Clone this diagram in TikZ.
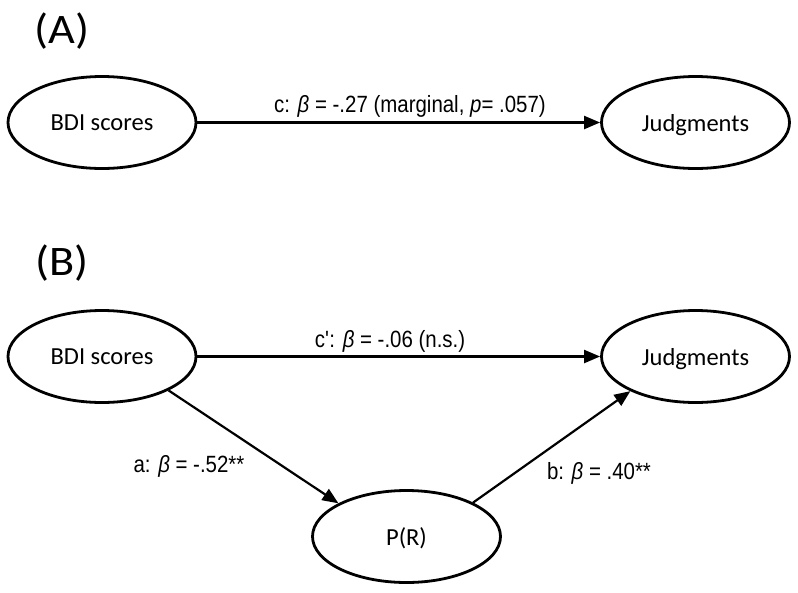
\documentclass[tikz,border=0pt]{standalone}
\usepackage{fontspec}
\setmainfont{Carlito}
\newfontfamily\lblfont{Liberation Sans}[FakeStretch=0.87]
\newfontfamily\panelfont{Carlito}[FakeStretch=1.1]
\usetikzlibrary{shapes.geometric,arrows.meta}
\begin{document}
\begin{tikzpicture}[x=1pt,y=-1pt,
  var/.style={ellipse, draw, line width=2.8pt, minimum width=188pt, minimum height=92pt,
    inner sep=0pt, font=\fontsize{24.5}{28}\selectfont, text depth=0pt},
  conn/.style={line width=2.2pt, -{Triangle[length=16pt,width=13pt]}},
  lbl/.style={font=\lblfont\fontsize{23.5}{28}\selectfont, anchor=base, inner sep=0pt},
  panel/.style={font=\panelfont\fontsize{42}{48}\selectfont, inner sep=0pt}]
\useasboundingbox (0,0) rectangle (798,592);
\node[panel] (pA) at (62,31) {(A)};
\node[panel] (pB) at (62,263) {(B)};
\node[var] (bdiA) at (102,122.5) {BDI scores};
\node[var] (judA) at (695.5,122.5) {Judgments};
\node[var] (bdiB) at (102,356.5) {BDI scores};
\node[var] (judB) at (695.5,356.5) {Judgments};
\node[var] (pr) at (406.5,536.5) {P(R)};
\draw[conn] (bdiA) -- (judA);
\draw[conn] (bdiB) -- (judB);
\draw[conn] (bdiB.-27) -- (pr.154);
\draw[conn] (pr.27) -- (judB.-152);
\node[lbl] (lc) at (410,112) {c: {\itshape β} = -.27 (marginal, {\itshape p}= .057)};
\node[lbl] (lcp) at (390,347) {c\textquotesingle: {\itshape β} = -.06 (n.s.)};
\node[lbl] (la) at (189,472) {a: {\itshape β} = -.52**};
\node[lbl] (lb) at (599,479) {b: {\itshape β} = .40**};
\end{tikzpicture}
\end{document}
